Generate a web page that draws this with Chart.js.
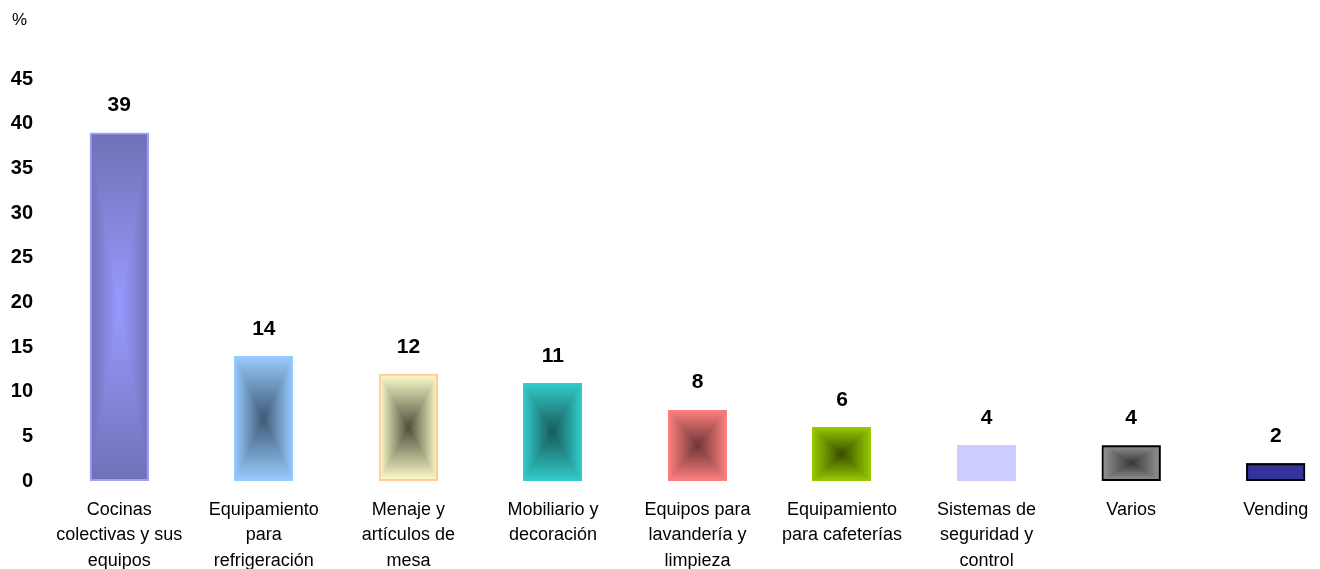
<!DOCTYPE html>
<html lang="es">

<head>
    <meta charset="UTF-8">
    <title>Distribución por sectores (%)</title>
    <script src="https://cdn.jsdelivr.net/npm/chart.js"></script>
    <style>
        body { margin: 0; overflow: hidden; background: #fff; }
        #wrap { width: 1348px; height: 569px; position: relative; }
    </style>
</head>

<body>
    <div id="wrap"><canvas id="sectorChart"></canvas></div>

    <script>
        // data
        const categories = [
            ['Cocinas', 'colectivas y sus', 'equipos'],
            ['Equipamiento', 'para', 'refrigeración'],
            ['Menaje y', 'artículos de', 'mesa'],
            ['Mobiliario y', 'decoración'],
            ['Equipos para', 'lavandería y', 'limpieza'],
            ['Equipamiento', 'para cafeterías'],
            ['Sistemas de', 'seguridad y', 'control'],
            ['Varios'],
            ['Vending']
        ];
        const values = [39, 14, 12, 11, 8, 6, 4, 4, 2];
        const yMin = 0, yMax = 45, yStep = 5;
        const unitLabel = '%';

        // styles: box gradient from edge colour to centre colour
        const edgeColors = ['#7070b6', '#99ccff', '#ffffcc', '#33cccc', '#ff8080', '#99cc00', '#ccccff', '#969696', '#333399'];
        const centerColors = ['#9a9aff', '#3e5a76', '#4f4f3c', '#185a5a', '#6e3636', '#384c00', '#ccccff', '#383838', '#333399'];
        const borderColors = ['#a0a0ff', '#99ccff', '#ffcc99', '#33cccc', '#ff8080', '#99cc00', '#ccccff', '#000000', '#000000'];
        const borderWidths = [2, 0, 2, 0, 0, 0, 0, 2, 2];

        function hexRgb(h) {
            return [parseInt(h.substr(1, 2), 16), parseInt(h.substr(3, 2), 16), parseInt(h.substr(5, 2), 16)];
        }

        // paints a rectangular ("from centre") gradient into every bar
        const boxGradient = {
            id: 'boxGradient',
            beforeDatasetDraw(chart, args) {
                const ctx = chart.ctx;
                args.meta.data.forEach((bar, i) => {
                    const p = bar.getProps(['x', 'y', 'base', 'width'], true);
                    const l = Math.round(p.x - p.width / 2);
                    const t = Math.round(Math.min(p.y, p.base));
                    const w = Math.round(p.width);
                    const h = Math.round(Math.abs(p.base - p.y));
                    if (w < 1 || h < 1) return;
                    const off = document.createElement('canvas');
                    off.width = w; off.height = h;
                    const octx = off.getContext('2d');
                    const img = octx.createImageData(w, h);
                    const e = hexRgb(edgeColors[i]), c = hexRgb(centerColors[i]);
                    const hw = w / 2, hh = h / 2;
                    for (let yy = 0; yy < h; yy++) {
                        for (let xx = 0; xx < w; xx++) {
                            const d = Math.max(Math.abs(xx + 0.5 - hw) / hw, Math.abs(yy + 0.5 - hh) / hh);
                            const k = (yy * w + xx) * 4;
                            for (let ch = 0; ch < 3; ch++) img.data[k + ch] = Math.round(c[ch] + (e[ch] - c[ch]) * d);
                            img.data[k + 3] = 255;
                        }
                    }
                    octx.putImageData(img, 0, 0);
                    ctx.drawImage(off, l, t);
                });
            }
        };

        // value labels above each bar, and the unit over the y axis
        const valueLabels = {
            id: 'valueLabels',
            afterDatasetsDraw(chart) {
                const ctx = chart.ctx;
                const meta = chart.getDatasetMeta(0);
                ctx.save();
                ctx.font = 'bold 21px "Liberation Sans", Arial, sans-serif';
                ctx.fillStyle = '#000';
                ctx.textAlign = 'center';
                ctx.textBaseline = 'middle';
                meta.data.forEach((bar, i) => {
                    ctx.fillText(values[i], bar.x, bar.y - 27);
                });
                ctx.font = '17px "Liberation Sans", Arial, sans-serif';
                ctx.textAlign = 'left';
                ctx.fillText(unitLabel, chart.scales.y.left + 6, 20);
                ctx.restore();
            }
        };

        function generateChart() {
            const ctx = document.getElementById('sectorChart').getContext('2d');
            const config = {
                type: 'bar',
                data: {
                    labels: categories,
                    datasets: [{
                        data: values,
                        backgroundColor: 'rgba(0,0,0,0)',
                        borderColor: borderColors,
                        borderWidth: borderWidths,
                        borderSkipped: false,
                        barPercentage: 0.41,
                        categoryPercentage: 1
                    }]
                },
                options: {
                    responsive: true,
                    maintainAspectRatio: false,
                    animation: false,
                    layout: { padding: { left: 6, right: 0, top: 79, bottom: 0 } },
                    scales: {
                        x: {
                            grid: { display: false, drawTicks: false },
                            border: { display: false },
                            ticks: {
                                color: '#000',
                                maxRotation: 0,
                                autoSkip: false,
                                padding: 17,
                                font: { family: '"Liberation Sans", Arial, sans-serif', size: 18, lineHeight: 1.39 }
                            },
                            afterFit(scale) { scale.height = 88; }
                        },
                        y: {
                            min: yMin,
                            max: yMax,
                            grid: { display: false, drawTicks: false },
                            border: { display: false },
                            ticks: {
                                stepSize: yStep,
                                color: '#000',
                                padding: 14,
                                font: { family: '"Liberation Sans", Arial, sans-serif', size: 20, weight: 'bold' }
                            },
                            afterFit(scale) { scale.width = 41; }
                        }
                    },
                    plugins: {
                        legend: { display: false },
                        tooltip: { enabled: false }
                    }
                },
                plugins: [boxGradient, valueLabels]
            };
            new Chart(ctx, config);
        }

        document.addEventListener('DOMContentLoaded', generateChart);
    </script>
</body>

</html>
